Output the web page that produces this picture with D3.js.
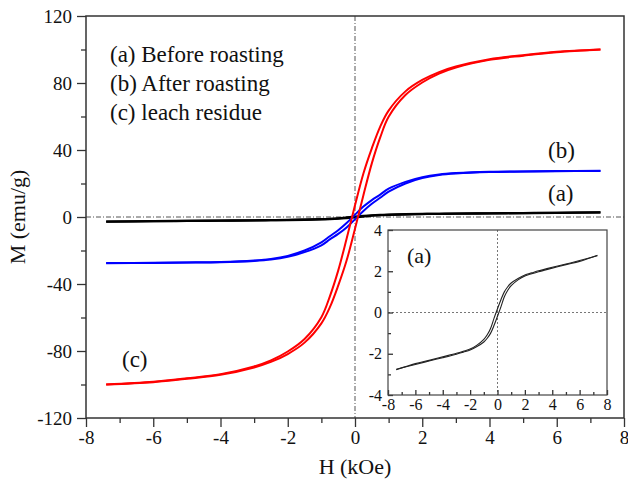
<!DOCTYPE html>
<html>
<head>
<meta charset="utf-8">
<script src="https://cdnjs.cloudflare.com/ajax/libs/d3/7.8.5/d3.min.js"></script>
<style>
    body { margin: 0; background: #fff; }
    svg { display: block; font-family: "Liberation Serif", "Times New Roman", serif; }
</style>
</head>
<body>
<svg id="chart" width="628" height="483"></svg>
<script>
/*
    M-H hysteresis loops, three samples, with inset for (a)
*/

// field (kOe), shared by every branch
const fieldValues = [-7.4, -6, -5, -4, -3, -2.5, -2, -1.5, -1, -0.75, -0.5, -0.25, 0,
    0.25, 0.5, 0.75, 1, 1.5, 2, 2.5, 3, 4, 5, 6, 7.3];

// (a) before roasting, emu/g
const beforeUpper = [-2.78, -2.48, -2.32, -2.15, -1.98, -1.88, -1.77, -1.58, -1.3, -1.08, -0.76, -0.27, 0.18,
    0.62, 1.0, 1.25, 1.43, 1.65, 1.82, 1.92, 2.02, 2.19, 2.35, 2.52, 2.75];
const beforeLower = [-2.75, -2.52, -2.35, -2.19, -2.02, -1.92, -1.82, -1.65, -1.43, -1.25, -1.0, -0.62, -0.18,
    0.27, 0.76, 1.08, 1.3, 1.58, 1.77, 1.88, 1.98, 2.15, 2.32, 2.48, 2.78];

// (b) after roasting
const afterUpper = [-27.5, -27.3, -27.1, -26.8, -25.9, -25, -23.2, -20, -15.1, -11.5, -7.9, -3.6, 1.4,
    6.2, 10.1, 13.4, 16.9, 21, 23.8, 25.4, 26.2, 27, 27.2, 27.4, 27.6];
const afterLower = [-27.6, -27.4, -27.2, -27, -26.2, -25.4, -23.8, -21, -16.9, -13.4, -10.1, -6.2, -1.4,
    3.6, 7.9, 11.5, 15.1, 20, 23.2, 25, 25.9, 26.8, 27.1, 27.3, 27.5];

// (c) leach residue
const residueUpper = [-100, -98.4, -96.3, -93.8, -89.2, -85.6, -80.3, -72.8, -59.8, -47.5, -32, -13, 7,
    26, 41, 54, 63.5, 75, 81.8, 86.5, 89.8, 94.2, 96.6, 98.6, 100];
const residueLower = [-100, -98.6, -96.6, -94.2, -89.8, -86.5, -81.8, -75, -63.5, -54, -41, -26, -7,
    13, 32, 47.5, 59.8, 72.8, 80.3, 85.6, 89.2, 93.8, 96.3, 98.4, 100];

const legendLabels = ["(a) Before roasting", "(b) After roasting", "(c) leach residue"];
const mainXTicks = [-8, -6, -4, -2, 0, 2, 4, 6, 8];
const mainYTicks = [-120, -80, -40, 0, 40, 80, 120];
const insetXTicks = [-8, -6, -4, -2, 0, 2, 4, 6, 8];
const insetYTicks = [-4, -2, 0, 2, 4];

const svg = d3.select("#chart");
const axisColor = "#333";
const serif = "'Liberation Serif', 'Times New Roman', serif";

const toPoints = values => values.map((m, i) => [fieldValues[i], m]);

function minorTicks(major) {
    const out = [];
    for (let i = 0; i < major.length - 1; i++) {
        out.push((major[i] + major[i + 1]) / 2);
    }
    return out;
}

function styleAxis(g, fontSize) {
    g.attr("font-family", serif);
    g.select(".domain").remove();
    g.selectAll("line").attr("stroke", axisColor).attr("stroke-width", 1.3);
    g.selectAll("text")
        .attr("fill", "#111")
        .attr("font-size", `${fontSize}px`);
}

function addText(parent, str, px, py, size) {
    return parent.append("text")
        .attr("x", px)
        .attr("y", py)
        .attr("font-family", serif)
        .attr("font-size", `${size}px`)
        .attr("fill", "#111")
        .text(str);
}

/* ---- main plot ---- */
const x = d3.scaleLinear().domain([-8, 8]).range([86, 624]);
const y = d3.scaleLinear().domain([-120, 120]).range([418, 16]);

// zero guides
svg.append("line")
    .attr("x1", x(-8)).attr("x2", x(8))
    .attr("y1", y(0)).attr("y2", y(0))
    .attr("stroke", "#555")
    .attr("stroke-width", 1)
    .attr("stroke-dasharray", "5,2,1,2");
svg.append("line")
    .attr("x1", x(0)).attr("x2", x(0))
    .attr("y1", y(120)).attr("y2", y(-120))
    .attr("stroke", "#555")
    .attr("stroke-width", 1)
    .attr("stroke-dasharray", "5,2,1,2");

svg.append("g")
    .attr("transform", `translate(0,${y(-120)})`)
    .call(d3.axisBottom(x).tickValues(mainXTicks).tickSize(9).tickPadding(4).tickFormat(d => String(d)))
    .call(g => styleAxis(g, 19));
svg.append("g")
    .attr("transform", `translate(0,${y(-120)})`)
    .call(d3.axisBottom(x).tickValues(minorTicks(mainXTicks)).tickSize(5).tickFormat(""))
    .call(g => styleAxis(g, 19));
svg.append("g")
    .attr("transform", `translate(${x(-8)},0)`)
    .call(d3.axisLeft(y).tickValues(mainYTicks).tickSize(9).tickPadding(5).tickFormat(d => String(d)))
    .call(g => styleAxis(g, 19));
svg.append("g")
    .attr("transform", `translate(${x(-8)},0)`)
    .call(d3.axisLeft(y).tickValues(minorTicks(mainYTicks)).tickSize(5).tickFormat(""))
    .call(g => styleAxis(g, 19));

svg.append("rect")
    .attr("x", x(-8))
    .attr("y", y(120))
    .attr("width", x(8) - x(-8))
    .attr("height", y(-120) - y(120))
    .attr("fill", "none")
    .attr("stroke", axisColor)
    .attr("stroke-width", 1.5);

const line = d3.line()
    .x(d => x(d[0]))
    .y(d => y(d[1]))
    .curve(d3.curveCatmullRom.alpha(0.5));

const loops = [
    { color: "#000", width: 2.3, branches: [beforeUpper, beforeLower] },
    { color: "#0000ff", width: 2, branches: [afterUpper, afterLower] },
    { color: "#ff0000", width: 2, branches: [residueUpper, residueLower] }
];

loops.forEach(loop => {
    loop.branches.forEach(branch => {
        svg.append("path")
            .datum(toPoints(branch))
            .attr("d", line)
            .attr("fill", "none")
            .attr("stroke", loop.color)
            .attr("stroke-width", loop.width);
    });
});

// legend + curve labels
legendLabels.forEach((label, i) => addText(svg, label, 110, 62 + i * 29, 23));

addText(svg, "(b)", 548, 158, 23);
addText(svg, "(a)", 548, 201, 23);
addText(svg, "(c)", 122, 367, 23);

addText(svg, "H (kOe)", x(0), 474, 22).attr("text-anchor", "middle");
addText(svg, "M (emu/g)", 0, 0, 22)
    .attr("transform", `translate(25,${y(0)}) rotate(-90)`)
    .attr("text-anchor", "middle");

/* ---- inset, sample (a) only ---- */
const ix = d3.scaleLinear().domain([-8, 8]).range([388, 607]);
const iy = d3.scaleLinear().domain([-4, 4]).range([395, 230]);
const inset = svg.append("g");

inset.append("rect")
    .attr("x", ix(-8))
    .attr("y", iy(4))
    .attr("width", ix(8) - ix(-8))
    .attr("height", iy(-4) - iy(4))
    .attr("fill", "#fff");

inset.append("line")
    .attr("x1", ix(-8)).attr("x2", ix(8))
    .attr("y1", iy(0)).attr("y2", iy(0))
    .attr("stroke", "#777")
    .attr("stroke-dasharray", "2,2");
inset.append("line")
    .attr("x1", ix(0)).attr("x2", ix(0))
    .attr("y1", iy(4)).attr("y2", iy(-4))
    .attr("stroke", "#777")
    .attr("stroke-dasharray", "2,2");

inset.append("g")
    .attr("transform", `translate(0,${iy(-4)})`)
    .call(d3.axisBottom(ix).tickValues(insetXTicks).tickSize(-5).tickPadding(4).tickFormat(d => String(d)))
    .call(g => styleAxis(g, 16));
inset.append("g")
    .attr("transform", `translate(0,${iy(-4)})`)
    .call(d3.axisBottom(ix).tickValues(minorTicks(insetXTicks)).tickSize(-3).tickFormat(""))
    .call(g => styleAxis(g, 16));
inset.append("g")
    .attr("transform", `translate(${ix(-8)},0)`)
    .call(d3.axisLeft(iy).tickValues(insetYTicks).tickSize(-5).tickPadding(6).tickFormat(d => String(d)))
    .call(g => styleAxis(g, 16));
inset.append("g")
    .attr("transform", `translate(${ix(-8)},0)`)
    .call(d3.axisLeft(iy).tickValues(minorTicks(insetYTicks)).tickSize(-3).tickFormat(""))
    .call(g => styleAxis(g, 16));

const insetLine = d3.line()
    .x(d => ix(d[0]))
    .y(d => iy(d[1]))
    .curve(d3.curveCatmullRom.alpha(0.5));

[beforeUpper, beforeLower].forEach(branch => {
    inset.append("path")
        .datum(toPoints(branch))
        .attr("d", insetLine)
        .attr("fill", "none")
        .attr("stroke", "#222")
        .attr("stroke-width", 1.1);
});

inset.append("rect")
    .attr("x", ix(-8))
    .attr("y", iy(4))
    .attr("width", ix(8) - ix(-8))
    .attr("height", iy(-4) - iy(4))
    .attr("fill", "none")
    .attr("stroke", "#444")
    .attr("stroke-width", 1.2);

addText(inset, "(a)", 407, 263, 22);
</script>
</body>
</html>
